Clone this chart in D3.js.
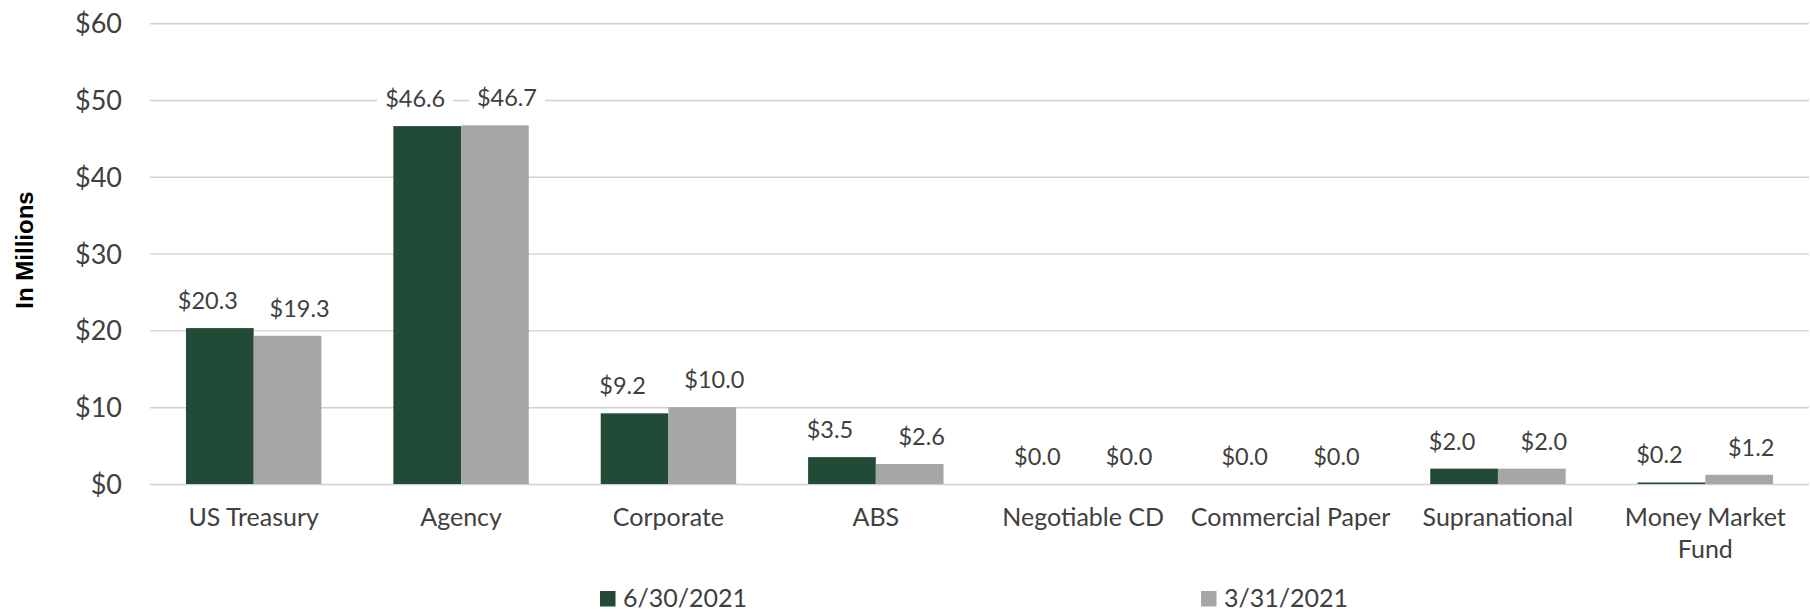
<!DOCTYPE html>
<html>
<head>
<meta charset="utf-8">
<script src="https://cdn.jsdelivr.net/npm/d3@7"></script>
<style>
  html, body { margin: 0; padding: 0; background: #ffffff; }
  svg { display: block; }
</style>
</head>
<body>
<svg id="chart" width="1810" height="613"></svg>
<script>
// ---- data ----
const categories = ["US Treasury", "Agency", "Corporate", "ABS", "Negotiable CD", "Commercial Paper", "Supranational", "Money Market Fund"];
const seriesNames = ["6/30/2021", "3/31/2021"];
const valuesJun2021 = [20.3, 46.6, 9.2, 3.5, 0.0, 0.0, 2.0, 0.2];
const valuesMar2021 = [19.3, 46.7, 10.0, 2.6, 0.0, 0.0, 2.0, 1.2];
const yTicks = [0, 10, 20, 30, 40, 50, 60];
const yTitle = "In Millions";

// ---- styles ----
const colors = ["#224B37", "#A6A6A6"];
const textColor = "#404040";
const gridColor = "#D0D0D0";
const font = "Lato, 'Open Sans', sans-serif";

const svg = d3.select("#chart");
const plot = { left: 150, right: 1809, top: 23.2, bottom: 484 };

const x = d3.scaleBand()
  .domain(categories)
  .range([plot.left, plot.right])
  .paddingInner(0.347)
  .paddingOuter(0.1735);

const xs = d3.scaleBand()
  .domain(seriesNames)
  .range([0, x.bandwidth()])
  .padding(0);

const y = d3.scaleLinear().domain([0, 60]).range([plot.bottom, plot.top]);

// gridlines via axis
const yAxis = d3.axisLeft(y)
  .tickValues(yTicks)
  .tickSize(-(plot.right - plot.left))
  .tickFormat(d => "$" + d);

const gAxis = svg.append("g")
  .attr("transform", `translate(${plot.left},0)`)
  .call(yAxis);
gAxis.select(".domain").remove();
gAxis.selectAll(".tick line")
  .attr("stroke", gridColor)
  .attr("stroke-width", 1.4);
gAxis.selectAll(".tick text")
  .attr("x", -28)
  .attr("dy", "0.35em")
  .attr("fill", textColor)
  .style("font-family", font)
  .style("font-size", "27px");

// y title
svg.append("text")
  .attr("transform", "translate(33,250) rotate(-90)")
  .attr("text-anchor", "middle")
  .attr("fill", "#000")
  .style("font-family", "'Liberation Sans', Arial, sans-serif")
  .style("font-weight", "bold")
  .style("font-size", "24px")
  .text(yTitle);

const series = [valuesJun2021, valuesMar2021];
const data = [];
categories.forEach((c, i) => {
  series.forEach((vals, s) => {
    data.push({ cat: c, s: s, name: seriesNames[s], v: vals[i] });
  });
});

// bars
svg.append("g").selectAll("rect")
  .data(data)
  .join("rect")
  .attr("x", d => x(d.cat) + xs(d.name))
  .attr("width", xs.bandwidth())
  .attr("y", d => y(d.v))
  .attr("height", d => y(0) - y(d.v))
  .attr("fill", d => colors[d.s]);

// value labels with white background
const labelG = svg.append("g");
const labels = labelG.selectAll("g")
  .data(data)
  .join("g")
  .attr("transform", d => {
    const cx = x(d.cat) + xs(d.name) + xs.bandwidth() / 2 + (d.s === 0 ? -12 : 12);
    return `translate(${cx},${y(d.v) - 19})`;
  });
labels.append("text")
  .attr("text-anchor", "middle")
  .attr("fill", textColor)
  .style("font-family", font)
  .style("font-size", "23.5px")
  .text(d => "$" + d.v.toFixed(1));
labels.each(function() {
  const g = d3.select(this);
  const bb = g.select("text").node().getBBox();
  g.insert("rect", "text")
    .attr("x", bb.x - 8)
    .attr("y", bb.y + 2)
    .attr("width", bb.width + 16)
    .attr("height", bb.height - 2)
    .attr("fill", "#ffffff");
});

// category labels
const catG = svg.append("g");
categories.forEach(c => {
  const cx = x(c) + x.bandwidth() / 2;
  const t = catG.append("text")
    .attr("x", cx)
    .attr("y", 526)
    .attr("text-anchor", "middle")
    .attr("fill", textColor)
    .style("font-family", font)
    .style("font-size", "25px");
  const lines = (c === "Money Market Fund") ? ["Money Market", "Fund"] : [c];
  lines.forEach((ln, k) => {
    t.append("tspan").attr("x", cx).attr("dy", k === 0 ? 0 : 31.5).text(ln);
  });
});

// legend
const legendX = [600, 1201];
const legend = svg.append("g");
seriesNames.forEach((n, i) => {
  legend.append("rect")
    .attr("x", legendX[i])
    .attr("y", 591)
    .attr("width", 15.5)
    .attr("height", 15.5)
    .attr("fill", colors[i]);
  legend.append("text")
    .attr("x", legendX[i] + 23)
    .attr("y", 607)
    .attr("fill", textColor)
    .style("font-family", font)
    .style("font-size", "25px")
    .text(n);
});
</script>
</body>
</html>
